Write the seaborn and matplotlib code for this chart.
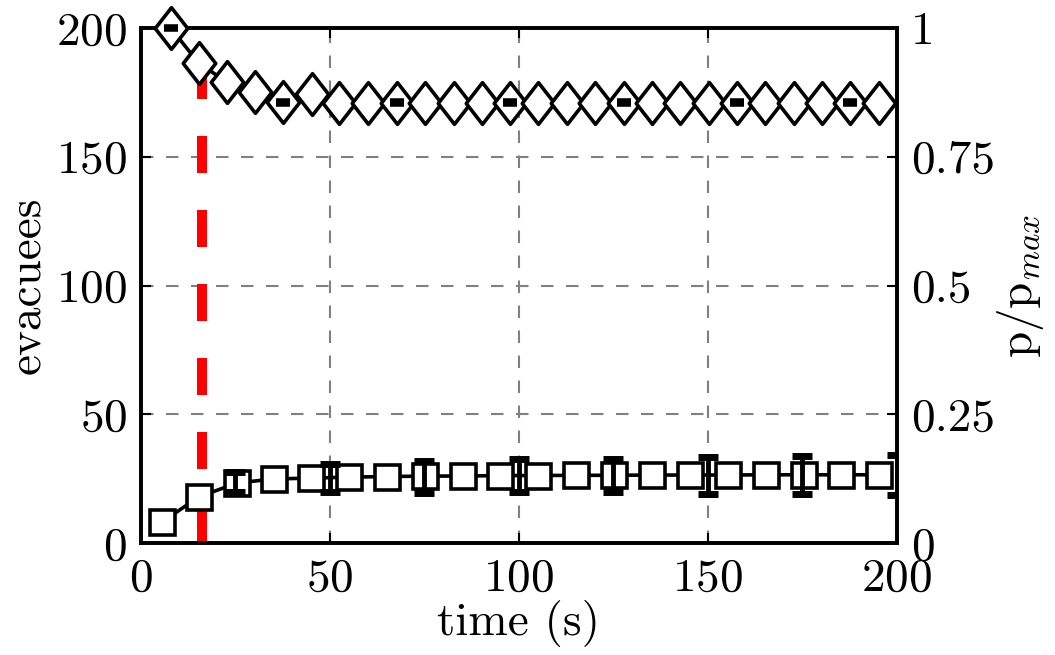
import numpy as np
import pandas as pd
import seaborn as sns
import matplotlib.pyplot as plt
from matplotlib.path import Path as MPath
from matplotlib.ticker import FixedLocator, FixedFormatter

# evacuees (left axis), marker positions
evac_time = [5.6, 15.3, 25.4, 35.2, 45.1, 55.1, 65.1, 75.1, 85.1, 95.1,
             105.1, 115.1, 125.2, 135.2, 145.2, 155.2, 165.3, 175.3, 185.3, 195.3]
evacuees = [8.2, 17.9, 23.3, 24.9, 25.2, 25.6, 25.8, 26.0, 26.0, 26.2,
            26.2, 26.3, 26.3, 26.4, 26.4, 26.4, 26.5, 26.5, 26.5, 26.5]
# evacuees error bars
evac_err_time = [25, 50, 75, 100, 125, 150, 175, 200]
evac_err_mean = [23.8, 25.4, 25.8, 26.2, 26.2, 26.4, 26.4, 26.4]
evac_err = [3.9, 5.4, 6.2, 6.3, 6.5, 7.2, 7.4, 7.6]

# pressure ratio (right axis)
press_time = [7.9, 15.3, 22.8, 30.2, 37.6, 45.2, 52.4, 60.0, 67.7, 75.2,
              82.7, 90.2, 97.6, 105.1, 112.6, 120.2, 127.7, 135.2, 142.7, 150.2,
              157.7, 165.2, 172.7, 180.2, 187.7, 195.2]
pressure = [1.0, 0.932, 0.895, 0.876, 0.856, 0.872, 0.854, 0.854, 0.855, 0.855,
            0.855, 0.855, 0.855, 0.855, 0.855, 0.855, 0.855, 0.855, 0.855, 0.855,
            0.855, 0.855, 0.855, 0.855, 0.855, 0.855]
press_err_time = [7.9, 37.6, 67.7, 97.6, 127.7, 157.7, 187.7]
press_err_mean = [1.0, 0.856, 0.855, 0.855, 0.855, 0.855, 0.855]
press_err = [0.002, 0.003, 0.003, 0.003, 0.003, 0.003, 0.003]

valve_time = 16.1

left_ticks = [0, 50, 100, 150, 200]
right_ticks = [0, 0.25, 0.5, 0.75, 1]
right_labels = ["0", "0.25", "0.5", "0.75", "1"]
x_ticks = [0, 50, 100, 150, 200]

sns.set_style("ticks")
plt.rcParams["font.family"] = ["cmr10"]
plt.rcParams["mathtext.fontset"] = "cm"
plt.rcParams["axes.formatter.use_mathtext"] = True
plt.rcParams["text.color"] = "black"
plt.rcParams["axes.labelcolor"] = "black"
plt.rcParams["xtick.color"] = "black"
plt.rcParams["ytick.color"] = "black"

FS = 34
LW = 2.6

fig = plt.figure(figsize=(10.55, 6.55), dpi=100)
ax = fig.add_axes([0.1336, 0.171, 0.7166, 0.786])
ax2 = ax.twinx()

ax.grid(True, color="0.5", ls=(0, (6, 6)), lw=1.5)
ax.set_axisbelow(True)

ax.axvline(valve_time, color="red", lw=7.2, ls=(0, (3.7, 3.7)), zorder=1)

ev = pd.DataFrame({"time": evac_time, "evacuees": evacuees})
sns.lineplot(data=ev, x="time", y="evacuees", ax=ax, color="black", lw=LW,
             marker="s", markersize=18, markerfacecolor="white",
             markeredgecolor="black", markeredgewidth=LW, errorbar=None, zorder=3)
ax.errorbar(evac_err_time, evac_err_mean, yerr=evac_err, fmt="none", ecolor="black",
            elinewidth=3.5, capsize=7.5, capthick=5, zorder=4)

diamond = MPath([(0, 1), (0.78, 0), (0, -1), (-0.78, 0), (0, 1)],
                [MPath.MOVETO, MPath.LINETO, MPath.LINETO, MPath.LINETO, MPath.CLOSEPOLY])
pr = pd.DataFrame({"time": press_time, "p": pressure})
sns.lineplot(data=pr, x="time", y="p", ax=ax2, color="black", lw=LW,
             marker=diamond, markersize=30, markerfacecolor="white",
             markeredgecolor="black", markeredgewidth=LW, errorbar=None,
             clip_on=False, zorder=3)
ax2.errorbar(press_err_time, press_err_mean, yerr=press_err, fmt="none", ecolor="black",
             elinewidth=2, capsize=5, capthick=4, zorder=4, clip_on=False)

ax.set_xlim(0, 200)
ax.set_ylim(0, 200)
ax2.set_ylim(0, 1)
ax.xaxis.set_major_locator(FixedLocator(x_ticks))
ax.yaxis.set_major_locator(FixedLocator(left_ticks))
ax2.yaxis.set_major_locator(FixedLocator(right_ticks))
ax2.yaxis.set_major_formatter(FixedFormatter(right_labels))

ax.tick_params(axis="y", direction="in", length=7, width=1.5, labelsize=FS,
               right=False, pad=10)
ax.tick_params(axis="x", direction="in", length=7, width=1.5, labelsize=FS,
               top=True, pad=11)
ax2.tick_params(axis="y", direction="in", length=7, width=1.5, labelsize=FS, pad=10)

for a in (ax, ax2):
    for s in a.spines.values():
        s.set_linewidth(LW)
        s.set_color("black")

ax.set_xlabel("time (s)", fontsize=FS, labelpad=0)
ax.set_ylabel("evacuees", fontsize=FS, labelpad=6)
ax2.set_ylabel(r"p/p$_{max}$", fontsize=FS, labelpad=0)

plt.savefig("out.png", dpi=100)
